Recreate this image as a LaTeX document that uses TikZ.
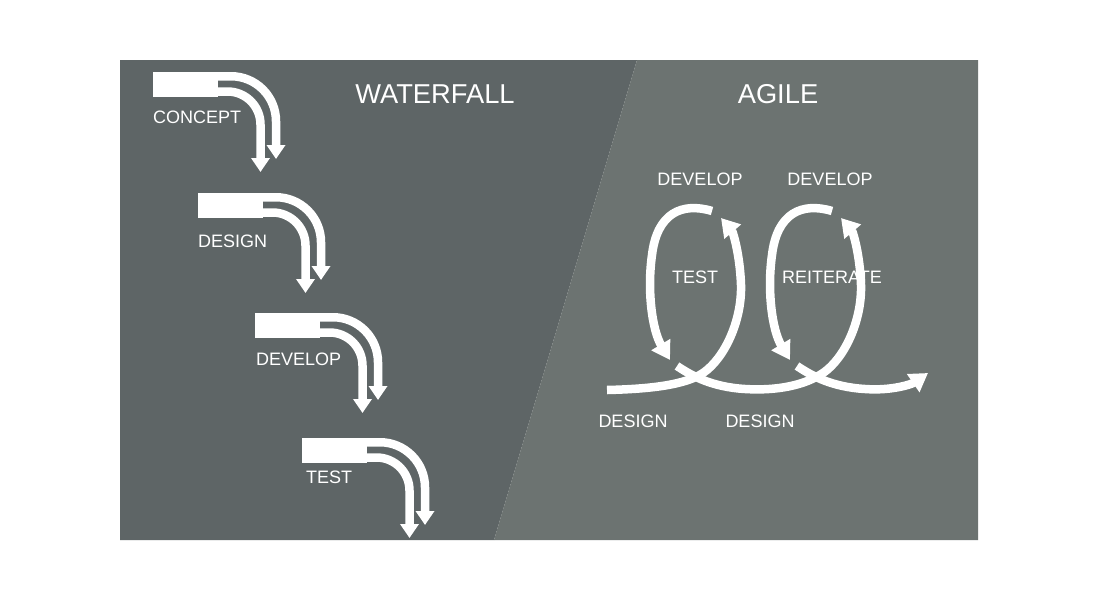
\documentclass[tikz,border=0pt]{standalone}
\usepackage{fontspec}
\setmainfont{Liberation Sans}
\usetikzlibrary{arrows.meta}
\definecolor{wfbg}{HTML}{5E6566}
\definecolor{agbg}{HTML}{6C7371}
\begin{document}
\begin{tikzpicture}[x=1pt,y=-1pt,
  band/.style={draw=white, line width=8.5pt},
  wfarrow/.style={band, -{Triangle[width=18pt,length=14pt]}},
  agarrow/.style={band, -{Triangle[width=21pt,length=18pt]}},
  barbox/.style={fill=white, inner sep=0pt, minimum width=65pt, minimum height=24.5pt, anchor=north west},
  lbl/.style={text=white, font=\fontsize{18}{18}\selectfont, inner sep=0pt},
  title/.style={text=white, font=\fontsize{27.3}{27.3}\selectfont, inner sep=0pt, anchor=base}]
\useasboundingbox (0,0) rectangle (1100,600);
\fill[white] (0,0) rectangle (1100,600);
% backgrounds
\fill[wfbg] (120,60) -- (637,60) -- (494,540) -- (120,540) -- cycle;
\fill[agbg] (637,60) -- (978,60) -- (978,540) -- (494,540) -- cycle;
% titles
\node[title] (wf) at (435,103.5) {WATERFALL};
\node[title] (ag) at (778,103.5) {AGILE};
% waterfall steps
\foreach \bx/\by/\n in {153/72/1,198/193/2,255/313/3,302/438/4} {
  \node[barbox] (bar\n) at (\bx,\by) {};
  \coordinate (os\n) at (\bx+64,\by+4.25);
  \coordinate (oe\n) at (\bx+123,\by+87);
  \coordinate (is\n) at (\bx+64,\by+19.5);
  \coordinate (ie\n) at (\bx+107.5,\by+100);
  \draw[wfarrow, rounded corners=45pt] (os\n) -| (oe\n);
  \draw[wfarrow, rounded corners=33pt] (is\n) -| (ie\n);
}
\node[lbl, anchor=base west] (l1) at (153,123) {CONCEPT};
\node[lbl, anchor=base west] (l2) at (198,247) {DESIGN};
\node[lbl, anchor=base west] (l3) at (256,365) {DEVELOP};
\node[lbl, anchor=base west] (l4) at (306,483) {TEST};
% agile labels
\node[lbl, anchor=base] (dv1) at (700,185.5) {DEVELOP};
\node[lbl, anchor=base] (dv2) at (830,185.5) {DEVELOP};
\node[lbl, anchor=base] (ts) at (695,283.5) {TEST};
\node[lbl, anchor=base] (re) at (832,283.5) {REITERATE};
\node[lbl, anchor=base] (ds1) at (633,427.5) {DESIGN};
\node[lbl, anchor=base] (ds2) at (760,427.5) {DESIGN};
% agile coil
\coordinate (s1a) at (607,390);
\coordinate (x1) at (703,373);
\coordinate (r1) at (741,285);
\coordinate (t1) at (721,218);
\coordinate (p1) at (712,211);
\coordinate (m1) at (652,255);
\coordinate (d1) at (670,360);
\coordinate (s2a) at (677,366);
\coordinate (b1) at (745,389);
\coordinate (x2) at (823,373);
\coordinate (r2) at (861,285);
\coordinate (t2) at (841,218);
\coordinate (p2) at (832,211);
\coordinate (m2) at (772,255);
\coordinate (d2) at (790,360);
\coordinate (s3a) at (797,366);
\coordinate (b2) at (865,389);
\coordinate (fin) at (928,373);
\draw[agarrow] (s1a) .. controls (650,389) and (685,385) .. (x1)
  .. controls (725,358) and (742,320) .. (r1)
  .. controls (740,255) and (733,232) .. (t1);
\draw[agarrow] (p1) .. controls (682,202) and (657,213) .. (m1)
  .. controls (647,290) and (652,330) .. (d1);
\draw[agarrow] (s2a) .. controls (692,376) and (712,387) .. (b1)
  .. controls (778,391) and (805,385) .. (x2)
  .. controls (845,358) and (862,320) .. (r2)
  .. controls (860,255) and (853,232) .. (t2);
\draw[agarrow] (p2) .. controls (802,202) and (777,213) .. (m2)
  .. controls (767,290) and (772,330) .. (d2);
\draw[agarrow] (s3a) .. controls (812,376) and (832,387) .. (b2)
  .. controls (892,391) and (912,384) .. (fin);
\end{tikzpicture}
\end{document}
